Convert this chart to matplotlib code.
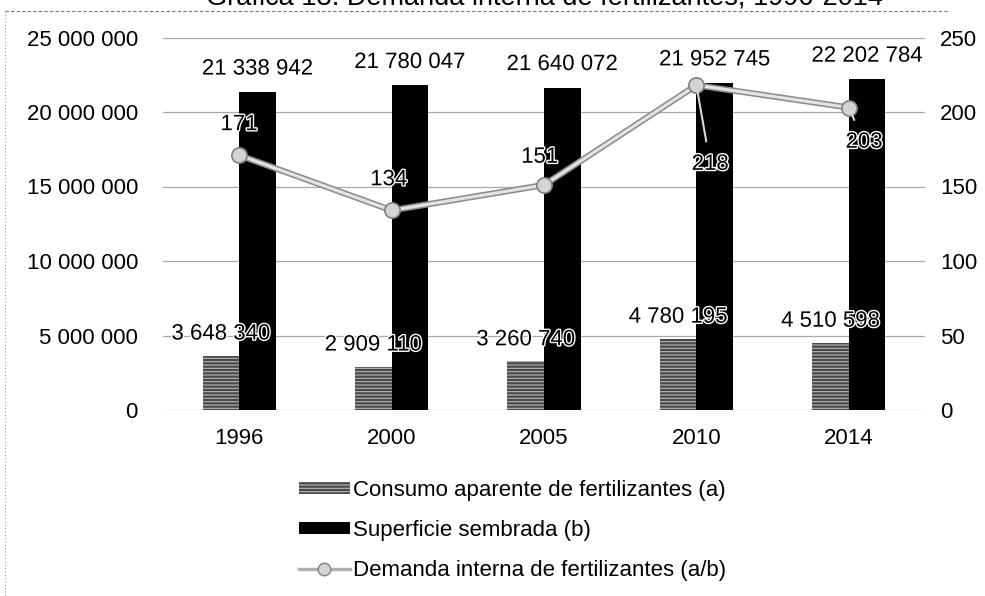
"""
Demanda interna de fertilizantes, 1996-2014 (bars + line on twin axis).
"""

import matplotlib
matplotlib.use("Agg")
import matplotlib.pyplot as plt
import matplotlib.patheffects as pe
from matplotlib.lines import Line2D
from matplotlib.patches import Patch
import numpy as np

years = ["1996", "2000", "2005", "2010", "2014"]
consumo = [3648340, 2909110, 3260740, 4780195, 4510598]
superficie = [21338942, 21780047, 21640072, 21952745, 22202784]
demanda = [171, 134, 151, 218, 203]

left_ticks = [0, 5000000, 10000000, 15000000, 20000000, 25000000]
right_ticks = [0, 50, 100, 150, 200, 250]

plt.rcParams['font.family'] = ['Liberation Sans', 'DejaVu Sans']
plt.rcParams['hatch.color'] = '#b5b5b5'
plt.rcParams['hatch.linewidth'] = 0.8

FS = 16
outline = [pe.withStroke(linewidth=2, foreground='white')]


def spaced(v):
    return f"{v:,}".replace(",", " ")


fig = plt.figure(figsize=(9.85, 5.96), dpi=100)
ax = fig.add_axes([163 / 985, 1 - 410 / 596, 762 / 985, 372.5 / 596])
ax2 = ax.twinx()

x = np.arange(len(years))
w = 0.24
b1 = ax.bar(x - w / 2, consumo, w, color='#4a4a4a', hatch='-----', linewidth=0, zorder=2)
b2 = ax.bar(x + w / 2, superficie, w, color='black', linewidth=0, zorder=2)

ax.set_xlim(-0.5, len(years) - 0.5)
ax.set_ylim(0, 25000000)
ax.set_yticks(left_ticks)
ax.set_yticklabels([spaced(v) for v in left_ticks], fontsize=FS)
ax.set_xticks(x)
ax.set_xticklabels(years, fontsize=FS)
ax.tick_params(axis='y', length=0, pad=18)
ax.tick_params(axis='x', length=0, pad=13)
ax.grid(axis='y', color='#a8a8a8', linewidth=0.9, zorder=0)
ax.set_axisbelow(True)
for s in ax.spines.values():
    s.set_visible(False)

for xi, v in zip(x, consumo):
    ax.annotate(spaced(v), (xi - w / 2, v), xytext=(0, 8), textcoords='offset points',
                ha='center', va='bottom', fontsize=FS, path_effects=outline, zorder=5)
for xi, v in zip(x, superficie):
    ax.annotate(spaced(v), (xi + w / 2, v), xytext=(0, 9), textcoords='offset points',
                ha='center', va='bottom', fontsize=FS, path_effects=outline, zorder=5)

# line on secondary axis
ax2.set_ylim(0, 250)
ax2.set_yticks(right_ticks)
ax2.set_yticklabels([str(v) for v in right_ticks], fontsize=FS)
ax2.tick_params(axis='y', length=0, pad=11)
for s in ax2.spines.values():
    s.set_visible(False)

ax2.plot(x, demanda, color='#8c8c8c', linewidth=4.5, solid_capstyle='round', zorder=3)
ax2.plot(x, demanda, color='#e4e4e4', linewidth=2.2, marker='o', markersize=11,
         markerfacecolor='#d4d4d4', markeredgecolor='#808080', markeredgewidth=1.2, zorder=4)

# point labels: offsets in points (dx, dy), leader line for the last two
offsets = [(0, 22), (-2, 22), (-3, 20), (10, -57), (11, -25)]
for i, (xi, v) in enumerate(zip(x, demanda)):
    dx, dy = offsets[i]
    if dy < 0:
        ax2.annotate(str(v), (xi, v), xytext=(dx, dy), textcoords='offset points',
                     ha='center', va='center', fontsize=FS, path_effects=outline, zorder=6,
                     arrowprops=dict(arrowstyle='-', color='#d8d8d8', lw=1.5,
                                     shrinkA=7, shrinkB=4))
    else:
        ax2.annotate(str(v), (xi, v), xytext=(dx, dy), textcoords='offset points',
                     ha='center', va='center', fontsize=FS, path_effects=outline, zorder=6)

# legend
handles = [
    Patch(facecolor='#4a4a4a', hatch='-----', linewidth=0),
    Patch(facecolor='black', linewidth=0),
    Line2D([0], [0], color='#b0b0b0', linewidth=2.5, marker='o', markersize=9,
           markerfacecolor='#d4d4d4', markeredgecolor='#808080'),
]
labels = ["Consumo aparente de fertilizantes (a)",
          "Superficie sembrada (b)",
          "Demanda interna de fertilizantes (a/b)"]
fig.legend(handles, labels, loc='upper left', bbox_to_anchor=(290 / 985, 1 - 471 / 596),
           frameon=False, fontsize=FS, handlelength=2.3, handleheight=0.45,
           handletextpad=0.15, labelspacing=0.85, borderaxespad=0)

# title, cut at the top of the scan
fig.text(544 / 985, 1 - 5 / 596, "Gráfica 13. Demanda interna de fertilizantes, 1996-2014",
         ha='center', va='baseline', fontsize=19.5)

# dotted frame of the scanned chart
fig.add_artist(Line2D([5 / 985, 948 / 985], [1 - 11 / 596, 1 - 11 / 596],
                      color='#777777', linewidth=0.8, linestyle=(0, (3, 2))))
fig.add_artist(Line2D([5 / 985, 5 / 985], [1 - 11 / 596, 0],
                      color='#999999', linewidth=0.8, linestyle=(0, (1, 2))))

plt.savefig("out.png", dpi=100)
plt.close()
